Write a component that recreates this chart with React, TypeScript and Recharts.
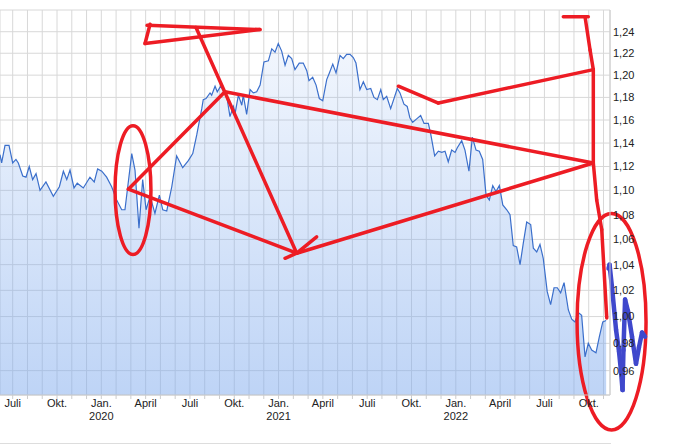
import {
  AreaChart,
  Area,
  XAxis,
  YAxis,
  CartesianGrid,
  ReferenceLine,
  ReferenceArea,
} from "recharts";

// month offset from Juli 2019 (0 = 1. Juli 2019)
const months = [
  -0.86, -0.75, -0.52, -0.25, 0, 0.22, 0.38, 0.68, 0.9, 1.12,
  1.35, 1.58, 1.85, 2.25, 2.75, 3.16, 3.43, 3.66, 3.88, 4.15,
  4.37, 4.78, 5.23, 5.52, 5.75, 6.03, 6.36, 6.7, 7.04, 7.38,
  7.6, 8.06, 8.28, 8.55, 8.8, 9.03, 9.3, 9.63, 9.93, 10.16,
  10.43, 10.77, 11.1, 11.51, 11.89, 12.19, 12.46, 12.8, 12.9, 13.09,
  13.36, 13.47, 13.7, 13.85, 14.08, 14.31, 14.49, 14.71, 14.94, 15.06,
  15.28, 15.51, 15.61, 15.84, 16.07, 16.29, 16.52, 16.75, 17.01, 17.31,
  17.54, 17.76, 17.98, 18.21, 18.44, 18.66, 18.89, 19.11, 19.4, 19.67,
  19.91, 20.06, 20.31, 20.54, 20.76, 20.99, 21.26, 21.44, 21.67, 21.89,
  22.16, 22.38, 22.61, 22.84, 23.06, 23.24, 23.51, 23.74, 23.97, 24.24,
  24.46, 24.69, 24.92, 25.09, 25.32, 25.59, 26.04, 26.22, 26.49, 26.71,
  26.89, 27.08, 27.35, 27.62, 27.85, 28.14, 28.3, 28.57, 28.82, 29.05,
  29.27, 29.49, 29.72, 29.95, 30.1, 30.4, 30.62, 30.89, 31.12, 31.37,
  31.59, 31.82, 32.05, 32.27, 32.5, 32.72, 32.95, 33.18, 33.45, 33.67,
  33.89, 34.12, 34.35, 34.57, 34.8, 35.07, 35.25, 35.48, 35.7, 35.92,
  36.19, 36.42, 36.65, 36.87, 37.1, 37.33, 37.62, 37.85, 38.07, 38.29,
  38.52, 38.75, 38.97, 39.2, 39.49, 39.72, 39.95, 40.18,
];

const rates = [
  1.13, 1.123, 1.138, 1.138, 1.123, 1.126, 1.123, 1.112, 1.111, 1.12,
  1.109, 1.114, 1.1, 1.107, 1.095, 1.103, 1.116, 1.109, 1.117, 1.102,
  1.106, 1.102, 1.111, 1.107, 1.118, 1.116, 1.111, 1.103, 1.092, 1.084,
  1.084, 1.131, 1.117, 1.069, 1.109, 1.084, 1.095, 1.081, 1.096, 1.084,
  1.083, 1.103, 1.129, 1.119, 1.125, 1.131, 1.147, 1.17, 1.178, 1.179,
  1.184, 1.182, 1.19, 1.185, 1.19, 1.185, 1.181, 1.163, 1.172, 1.166,
  1.182, 1.173, 1.182, 1.165, 1.187, 1.184, 1.185, 1.191, 1.212, 1.213,
  1.224, 1.221, 1.229, 1.222, 1.209, 1.218, 1.215, 1.205, 1.211, 1.211,
  1.204, 1.195, 1.198, 1.191, 1.179, 1.177, 1.196, 1.202, 1.21, 1.202,
  1.218, 1.215, 1.219, 1.219, 1.216, 1.211, 1.187, 1.194, 1.187, 1.188,
  1.18, 1.178, 1.187, 1.178, 1.181, 1.17, 1.188, 1.184, 1.174, 1.172,
  1.162, 1.158, 1.161, 1.164, 1.157, 1.157, 1.148, 1.129, 1.133, 1.132,
  1.133, 1.124, 1.134, 1.132, 1.136, 1.142, 1.134, 1.116, 1.145, 1.134,
  1.133, 1.126, 1.096, 1.092, 1.104, 1.099, 1.104, 1.088, 1.084, 1.08,
  1.055, 1.054, 1.04, 1.057, 1.074, 1.072, 1.053, 1.05, 1.056, 1.045,
  1.019, 1.009, 1.022, 1.022, 1.018, 1.026, 1.005, 0.998, 0.996, 1.003,
  1.001, 0.97, 0.98, 0.975, 0.973, 0.985, 0.996, 0.997,
];

const yTicks = [0.96, 0.98, 1.0, 1.02, 1.04, 1.06, 1.08, 1.1, 1.12, 1.14, 1.16, 1.18, 1.2, 1.22, 1.24];
const yDomain = [0.9425, 1.2605];
const xDomain = [-0.86, 40.44];

const xTickMonths = [0, 3, 6, 9, 12, 15, 18, 21, 24, 27, 30, 33, 36, 39];
const xTickLabels = ["Juli", "Okt.", "Jan.", "April", "Juli", "Okt.", "Jan.", "April", "Juli", "Okt.", "Jan.", "April", "Juli", "Okt."];
const xTickYears = ["", "", "2020", "", "", "", "2021", "", "", "", "2022", "", "", ""];
const monthGrid = Array.from({ length: 41 }, (_, i) => i);

// hand-drawn marks on top of the chart, in [month, rate]
const redStrokes = [
  [[9.3, 1.247], [8.96, 1.229], [16.74, 1.242], [9.1, 1.246]],
  [[12.41, 1.244], [19.23, 1.049]],
  [[7.83, 1.101], [14.37, 1.185], [39.31, 1.123], [19.23, 1.049], [7.83, 1.101]],
  [[20.58, 1.062], [19.23, 1.049], [18.44, 1.045]],
  [[37.28, 1.254], [38.97, 1.254]],
  [[38.75, 1.254], [39.09, 1.223], [39.31, 1.205], [39.31, 1.123], [39.54, 1.092], [39.88, 1.068], [40.22, 0.999]],
  [[26.11, 1.19], [28.82, 1.175], [39.31, 1.205]],
];
const blueStroke = [
  [40.34, 1.037], [40.41, 1.04], [40.58, 1.022], [40.85, 0.99], [41.05, 0.974],
  [41.19, 0.959], [41.29, 0.946], [41.35, 0.975], [41.46, 1.013], [41.66, 1.004],
  [41.93, 0.985], [42.2, 0.965], [42.4, 0.977], [42.61, 0.988], [42.81, 0.985],
];
const redEllipses = [
  { m1: 6.93, m2: 9.36, v1: 1.048, v2: 1.155 },
  { m1: 38.21, m2: 42.88, v1: 0.918, v2: 1.081 },
];

const data = months.map((m, i) => ({ m, rate: rates[i] }));

const FONT = '"Liberation Sans", Arial, sans-serif';

function MonthTick({ x, y, payload }: any) {
  const i = xTickMonths.indexOf(payload.value);
  if (i < 0) return <g />;
  return (
    <g>
      <text x={x} y={y} dy="0.71em" textAnchor="middle" fontSize={11} fontFamily={FONT} fill="#222">
        {xTickLabels[i]}
      </text>
      {xTickYears[i] && (
        <text x={x} y={y + 13} dy="0.71em" textAnchor="middle" fontSize={11} fontFamily={FONT} fill="#222">
          {xTickYears[i]}
        </text>
      )}
    </g>
  );
}

function segments(points: number[][], color: string, width: number, key: string) {
  return points.slice(1).map((p, i) => (
    <ReferenceLine
      key={`${key}-${i}`}
      segment={[
        { x: points[i][0], y: points[i][1] },
        { x: p[0], y: p[1] },
      ]}
      ifOverflow="visible"
      stroke={color}
      strokeWidth={width}
      strokeLinecap="round"
    />
  ));
}

export default function App() {
  return (
    <div style={{ position: "absolute", left: 0, top: 0, width: 611, height: 443, borderBottom: "1px solid #ddd" }}>
      <AreaChart
        width={674}
        height={443}
        data={data}
        margin={{ top: 10, right: 0, left: 0, bottom: 0 }}
        style={{ overflow: "visible" }}
      >
        <defs>
          <linearGradient id="rateFill" x1="0" y1="0" x2="0" y2="1">
            <stop offset="0%" stopColor="#7da9ed" stopOpacity={0.1} />
            <stop offset="100%" stopColor="#7da9ed" stopOpacity={0.5} />
          </linearGradient>
        </defs>
        <CartesianGrid stroke="#d8d8d8" />
        <XAxis
          dataKey="m"
          type="number"
          domain={xDomain}
          allowDataOverflow
          ticks={monthGrid}
          interval={0}
          tickSize={4}
          tickMargin={0}
          tickLine={{ stroke: "#ccc" }}
          axisLine={{ stroke: "#ccc" }}
          tick={<MonthTick />}
          height={48}
        />
        <YAxis
          orientation="right"
          scale="log"
          domain={yDomain}
          allowDataOverflow
          ticks={[yDomain[0], ...yTicks, yDomain[1]]}
          interval={0}
          tickFormatter={(v: number) => (yTicks.includes(v) ? v.toFixed(2).replace(".", ",") : "")}
          tickSize={0}
          tickMargin={3}
          axisLine={{ stroke: "#ccc" }}
          tick={{ fontSize: 11, fontFamily: FONT, fill: "#222", textAnchor: "start" }}
          width={64}
        />
        <Area
          type="linear"
          dataKey="rate"
          stroke="#3b6fcb"
          strokeWidth={1.2}
          fill="url(#rateFill)"
          fillOpacity={1}
          baseValue="dataMin"
          isAnimationActive={false}
          dot={false}
          activeDot={false}
        />
        {redEllipses.map((e, i) => (
          <ReferenceArea
            key={`ell-${i}`}
            x1={e.m1}
            x2={e.m2}
            y1={e.v1}
            y2={e.v2}
            ifOverflow="visible"
            shape={(p: any) => (
              <ellipse
                cx={p.x + p.width / 2}
                cy={p.y + p.height / 2}
                rx={Math.abs(p.width) / 2}
                ry={Math.abs(p.height) / 2}
                fill="none"
                stroke="#ed1c24"
                strokeWidth={3.5}
              />
            )}
          />
        ))}
        {redStrokes.map((s, i) => segments(s, "#ed1c24", 3.5, `red-${i}`))}
        {segments(blueStroke, "#3f48cc", 4.5, "blue")}
      </AreaChart>
    </div>
  );
}
